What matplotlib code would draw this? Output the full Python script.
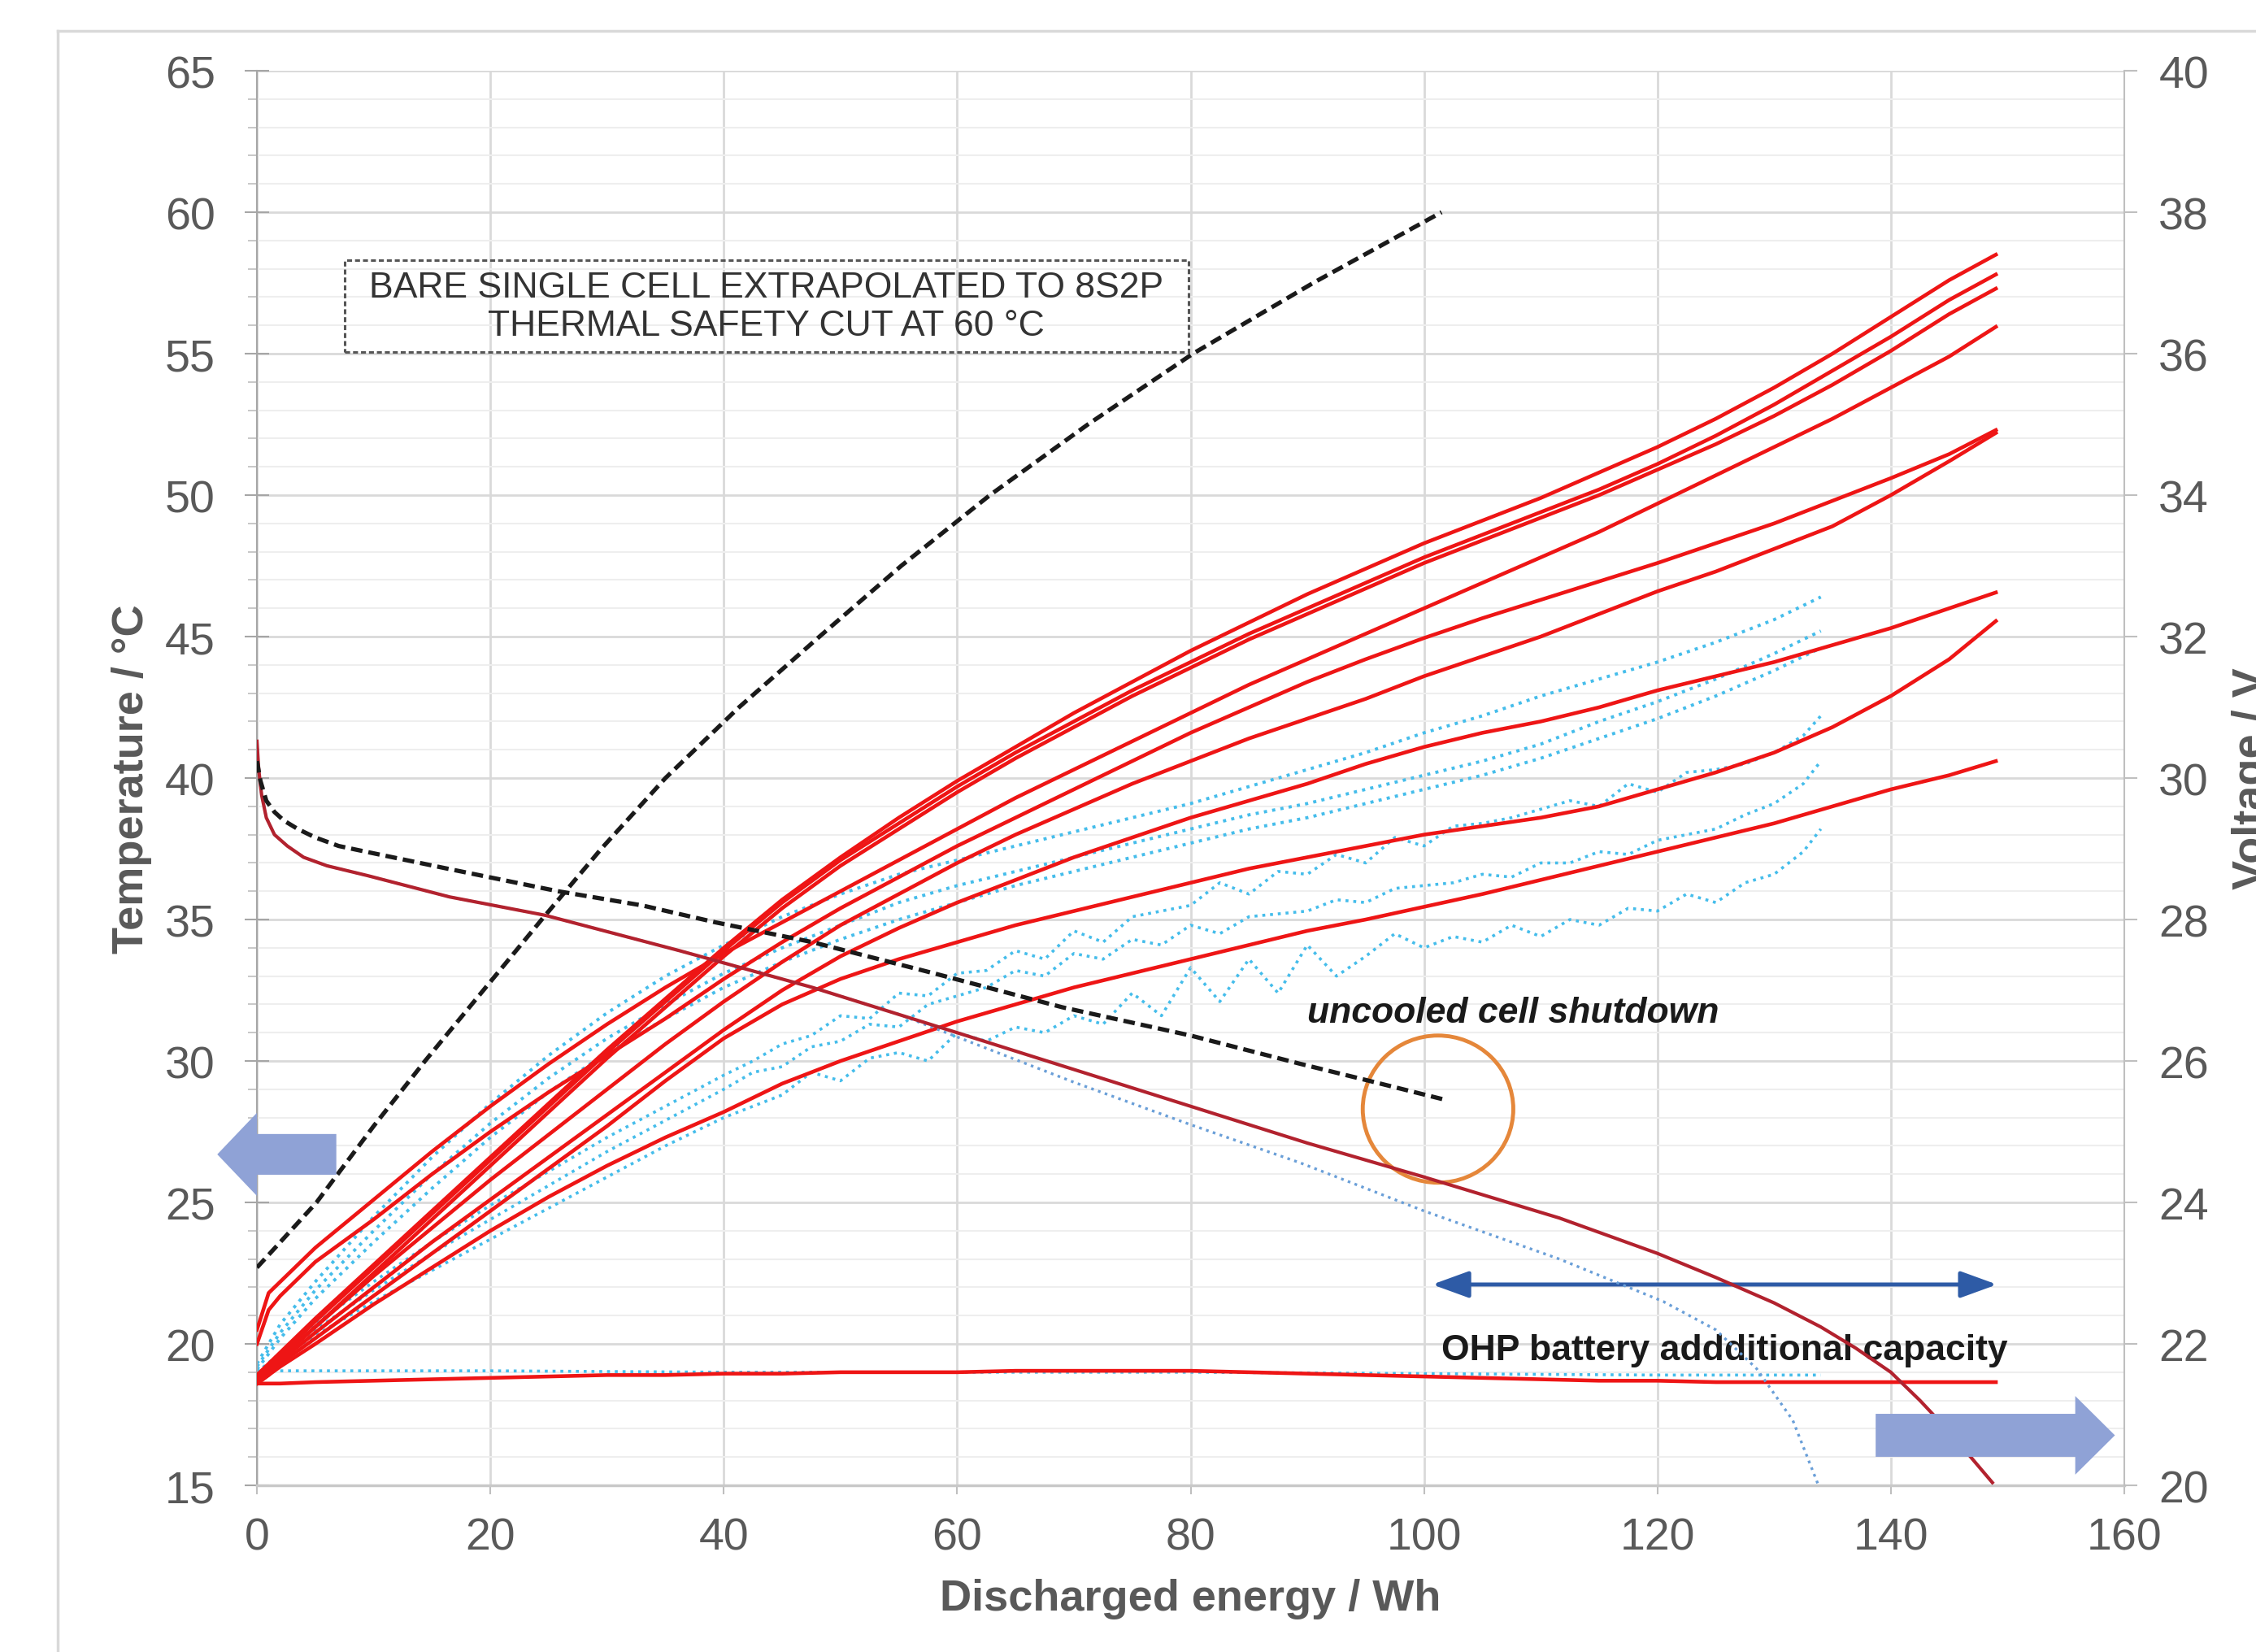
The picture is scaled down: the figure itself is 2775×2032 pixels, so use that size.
import numpy as np
import matplotlib.pyplot as plt
from matplotlib.patches import Ellipse, Rectangle, FancyArrow
from matplotlib.lines import Line2D

plt.rcParams['font.family'] = ['Liberation Sans', 'DejaVu Sans']

# ---------------- data ----------------
x_ticks = [0, 20, 40, 60, 80, 100, 120, 140, 160]
temp_ticks = [15, 20, 25, 30, 35, 40, 45, 50, 55, 60, 65]
volt_ticks = [20, 22, 24, 26, 28, 30, 32, 34, 36, 38, 40]

# OHP battery cell temperatures (red, solid)
energy_red = [0, 1, 2, 5, 10, 15, 20, 25, 30, 35, 40, 45, 50, 55, 60, 65, 70, 75,
              80, 85, 90, 95, 100, 105, 110, 115, 120, 125, 130, 135, 140, 145, 149]
red_t1 = [18.9, 19.3, 19.7, 20.9, 22.8, 24.7, 26.6, 28.5, 30.4, 32.2, 34.0, 35.7, 37.2, 38.6, 39.9, 41.1, 42.3,
          43.4, 44.5, 45.5, 46.5, 47.4, 48.3, 49.1, 49.9, 50.8, 51.7, 52.7, 53.8, 55.0, 56.3, 57.6, 58.5]
red_t2 = [18.8, 19.2, 19.6, 20.8, 22.7, 24.6, 26.5, 28.4, 30.3, 32.1, 33.9, 35.6, 37.1, 38.4, 39.7, 40.9, 42.0,
          43.1, 44.1, 45.1, 46.0, 46.9, 47.8, 48.6, 49.4, 50.2, 51.1, 52.1, 53.2, 54.4, 55.6, 56.9, 57.8]
red_t3 = [18.7, 19.1, 19.5, 20.6, 22.5, 24.4, 26.3, 28.2, 30.1, 31.9, 33.7, 35.4, 36.9, 38.2, 39.5, 40.7, 41.8,
          42.9, 43.9, 44.9, 45.8, 46.7, 47.6, 48.4, 49.2, 50.0, 50.9, 51.8, 52.8, 53.9, 55.1, 56.4, 57.3]
red_t4 = [20.5, 21.8, 22.2, 23.4, 25.1, 26.8, 28.4, 29.9, 31.3, 32.6, 33.8, 34.9, 36.0, 37.1, 38.2, 39.3, 40.3,
          41.3, 42.3, 43.3, 44.2, 45.1, 46.0, 46.9, 47.8, 48.7, 49.7, 50.7, 51.7, 52.7, 53.8, 54.9, 55.95]
red_t5 = [20.0, 21.2, 21.7, 22.9, 24.4, 26.0, 27.5, 28.9, 30.2, 31.5, 32.9, 34.2, 35.4, 36.5, 37.6, 38.6, 39.6,
          40.6, 41.6, 42.5, 43.4, 44.2, 44.95, 45.65, 46.3, 46.95, 47.6, 48.3, 49.0, 49.8, 50.6, 51.45, 52.3]
red_t6 = [18.8, 19.2, 19.5, 20.6, 22.4, 24.1, 25.8, 27.4, 29.0, 30.6, 32.1, 33.5, 34.8, 35.9, 37.0, 38.0, 38.9,
          39.8, 40.6, 41.4, 42.1, 42.8, 43.6, 44.3, 45.0, 45.8, 46.6, 47.3, 48.1, 48.9, 50.0, 51.2, 52.2]
red_t7 = [18.7, 19.0, 19.4, 20.4, 22.0, 23.6, 25.1, 26.6, 28.1, 29.6, 31.1, 32.5, 33.7, 34.7, 35.6, 36.4, 37.2,
          37.9, 38.6, 39.2, 39.8, 40.5, 41.1, 41.6, 42.0, 42.5, 43.1, 43.6, 44.1, 44.7, 45.3, 46.0, 46.56]
red_t8 = [18.6, 18.9, 19.3, 20.2, 21.7, 23.2, 24.7, 26.2, 27.7, 29.3, 30.8, 32.0, 32.9, 33.6, 34.2, 34.8, 35.3,
          35.8, 36.3, 36.8, 37.2, 37.6, 38.0, 38.3, 38.6, 39.0, 39.6, 40.2, 40.9, 41.8, 42.9, 44.2, 45.55]
red_t9 = [18.6, 18.9, 19.2, 20.0, 21.4, 22.7, 24.0, 25.2, 26.3, 27.3, 28.2, 29.2, 30.0, 30.7, 31.4, 32.0, 32.6,
          33.1, 33.6, 34.1, 34.6, 35.0, 35.45, 35.9, 36.4, 36.9, 37.4, 37.9, 38.4, 39.0, 39.6, 40.1, 40.6]
red_flat = [18.6, 18.6, 18.6, 18.65, 18.7, 18.75, 18.8, 18.85, 18.9, 18.9, 18.95, 18.95, 19.0, 19.0, 19.0, 19.05,
            19.05, 19.05, 19.05, 19.0, 18.95, 18.9, 18.85, 18.8, 18.75, 18.7, 18.7, 18.65, 18.65, 18.65, 18.65,
            18.65, 18.65]

# reference cell temperatures (light blue, dotted)
energy_cyan_smooth = [0, 2, 5, 10, 15, 20, 25, 30, 35, 40, 45, 50, 55, 60, 65, 70, 75, 80, 85, 90,
                      95, 100, 105, 110, 115, 120, 125, 130, 134]
cyan_u0 = [19.3, 20.7, 22.2, 24.5, 26.6, 28.5, 30.2, 31.7, 33.0, 34.1, 35.1, 35.9, 36.6, 37.1, 37.6, 38.1, 38.6,
           39.1, 39.7, 40.3, 40.9, 41.6, 42.2, 42.9, 43.5, 44.1, 44.8, 45.6, 46.4]
cyan_u1 = [19.2, 20.4, 21.9, 24.0, 26.0, 27.8, 29.4, 30.8, 32.0, 33.1, 34.0, 34.8, 35.6, 36.2, 36.7, 37.2, 37.7,
           38.2, 38.7, 39.1, 39.6, 40.1, 40.6, 41.2, 42.0, 42.7, 43.5, 44.4, 45.2]
cyan_u2 = [19.1, 20.2, 21.6, 23.6, 25.5, 27.3, 28.9, 30.3, 31.5, 32.6, 33.5, 34.3, 35.0, 35.6, 36.2, 36.7, 37.2,
           37.7, 38.2, 38.6, 39.1, 39.6, 40.1, 40.7, 41.4, 42.1, 42.9, 43.8, 44.6]

energy_cyan_noisy = [0, 5, 10, 15, 20, 25, 30, 35, 40, 42.5, 45, 47.5, 50, 52.5, 55, 57.5, 60, 62.5, 65, 67.5,
                     70, 72.5, 75, 77.5, 80, 82.5, 85, 87.5, 90, 92.5, 95, 97.5, 100, 102.5, 105, 107.5, 110,
                     112.5, 115, 117.5, 120, 122.5, 125, 127.5, 130, 132.5, 134]
cyan_l1 = [19.0, 20.7, 22.2, 23.6, 24.9, 26.1, 27.3, 28.4, 29.5, 30.0, 30.6, 30.9, 31.6, 31.5, 32.4, 32.3, 33.1,
           33.2, 33.9, 33.6, 34.6, 34.2, 35.1, 35.3, 35.5, 36.3, 35.9, 36.7, 36.6, 37.3, 37.0, 37.9, 37.6, 38.3,
           38.4, 38.6, 38.9, 39.2, 39.0, 39.8, 39.5, 40.2, 40.3, 40.5, 40.9, 41.5, 42.2]
cyan_l2 = [19.0, 20.5, 21.9, 23.2, 24.4, 25.6, 26.8, 27.9, 29.0, 29.6, 29.8, 30.5, 30.7, 31.3, 31.2, 32.0, 32.3,
           32.6, 33.2, 33.0, 33.8, 33.6, 34.3, 34.1, 34.8, 34.5, 35.1, 35.2, 35.3, 35.7, 35.6, 36.1, 36.2, 36.3,
           36.6, 36.5, 37.0, 37.0, 37.4, 37.3, 37.8, 38.0, 38.2, 38.7, 39.1, 39.8, 40.6]
cyan_l3 = [19.0, 20.3, 21.5, 22.6, 23.7, 24.8, 25.9, 27.0, 28.0, 28.4, 28.8, 29.6, 29.3, 30.1, 30.3, 30.0, 31.0,
           30.7, 31.2, 31.0, 31.6, 31.3, 32.4, 31.6, 33.3, 32.1, 33.6, 32.4, 34.1, 33.0, 33.7, 34.5, 34.0, 34.4,
           34.2, 34.8, 34.4, 35.0, 34.8, 35.4, 35.3, 35.9, 35.6, 36.3, 36.6, 37.4, 38.2]
energy_cyan_flat = [0, 20, 40, 60, 80, 100, 120, 134]
cyan_flat = [19.05, 19.05, 19.0, 19.0, 19.0, 18.95, 18.9, 18.9]

# bare single cell extrapolated (black dashed) - temperature
energy_bare_temp = [0, 2, 5.1, 10, 14.4, 19.4, 24.4, 29.5, 35, 41.3, 48.2, 55.2, 62.8, 71.2, 80.2, 90.5, 101.5]
bare_temp = [22.7, 23.6, 25.0, 27.7, 30.0, 32.5, 35.0, 37.5, 40.0, 42.5, 45.0, 47.5, 50.0, 52.5, 55.0, 57.5, 60.0]

# voltages (right axis)
energy_bare_volt = [0, 0.3, 0.8, 1.5, 2.3, 3.5, 5, 7, 9.3, 16.3, 25.8, 33, 39.3, 47.6, 58, 69, 80, 89.4,
                    95.3, 101.6]
bare_volt = [30.24, 29.96, 29.68, 29.52, 29.4, 29.28, 29.16, 29.04, 28.96, 28.72, 28.4, 28.2, 27.96, 27.68,
             27.24, 26.76, 26.36, 25.96, 25.72, 25.46]
energy_ohp_volt = [0, 0.15, 0.4, 0.8, 1.5, 2.6, 4, 6, 9.5, 16.5, 24.7, 36.2, 47.6, 60, 70, 80, 90, 100,
                   111.6, 120, 125, 130, 134, 137, 140, 142.5, 145, 148.7]
ohp_volt = [30.52, 30.12, 29.76, 29.44, 29.2, 29.04, 28.88, 28.76, 28.62, 28.32, 28.06, 27.56, 27.04, 26.4,
            25.88, 25.36, 24.84, 24.36, 23.78, 23.28, 22.94, 22.58, 22.24, 21.94, 21.6, 21.2, 20.76, 20.04]
energy_ref_volt = [0, 0.15, 0.4, 0.8, 1.5, 2.6, 4, 6, 9.5, 16.5, 24.7, 36.2, 47.6, 55, 60, 70, 80, 89.4,
                   100, 111.6, 120.5, 125, 128.5, 131.6, 133.8]
ref_volt = [30.52, 30.12, 29.76, 29.44, 29.2, 29.04, 28.88, 28.76, 28.62, 28.32, 28.06, 27.56, 27.04, 26.66,
            26.34, 25.7, 25.1, 24.56, 23.88, 23.2, 22.6, 22.2, 21.65, 20.92, 20.0]

# ---------------- figure ----------------
RED = '#EE1515'
CYAN = '#45BDEB'
GRID = '#D9D9D9'
LABEL = '#595959'

fig = plt.figure(figsize=(27.75, 20.33), dpi=100)
ax = fig.add_axes([0.1139, 0.1008, 0.8277, 0.8559])
ax2 = ax.twinx()

# light-blue reference temperatures
ax.plot(energy_cyan_flat, cyan_flat, color=CYAN, lw=2.6, ls=':', zorder=2)
for t in (cyan_u0, cyan_u1, cyan_u2):
    ax.plot(energy_cyan_smooth, t, color=CYAN, lw=2.8, ls=':', zorder=2)
for t in (cyan_l1, cyan_l2, cyan_l3):
    ax.plot(energy_cyan_noisy, t, color=CYAN, lw=2.6, ls=':', zorder=2)

# OHP cell temperatures
for t in (red_t9, red_t8, red_t7, red_t6, red_t5, red_t4, red_t3, red_t2, red_t1, red_flat):
    ax.plot(energy_red, t, color=RED, lw=3.3, zorder=3)

ax.plot(energy_bare_temp, bare_temp, color='#1A1A1A', lw=3.8, ls=(0, (2.7, 1.4)), zorder=4)

# voltages
ax2.plot(energy_ref_volt, ref_volt, color='#6A9FD8', lw=2.4, ls=':', zorder=2)
ax2.plot(energy_ohp_volt, ohp_volt, color='#B2222E', lw=3.0, zorder=3)
ax2.plot(energy_bare_volt, bare_volt, color='#1A1A1A', lw=3.8, ls=(0, (2.7, 1.4)), zorder=4)

# axes, ticks, grid
ax.set_xlim(0, 160)
ax.set_ylim(15, 65)
ax2.set_ylim(20, 40)
ax.set_xticks(x_ticks)
ax.set_yticks(temp_ticks)
ax.set_yticks(np.arange(15, 66, 1), minor=True)
ax2.set_yticks(volt_ticks)
ax.grid(which='major', color=GRID, lw=2)
ax.grid(which='minor', axis='y', color='#EEEEEE', lw=1.5)
ax.set_axisbelow(True)

ax.tick_params(axis='y', which='major', direction='inout', length=22, width=1.5, color='#A6A6A6',
               labelsize=40, labelcolor=LABEL, pad=26)
ax.tick_params(axis='y', which='minor', direction='out', length=8, width=1.2, color='#BFBFBF')
ax.tick_params(axis='x', which='major', direction='out', length=8, width=1.5, color='#BFBFBF',
               labelsize=40, labelcolor=LABEL, pad=20)
ax2.tick_params(axis='y', direction='out', length=11.5, width=1.5, color='#BFBFBF',
                labelsize=40, labelcolor=LABEL, pad=19)

for s in ('top', 'right'):
    ax.spines[s].set_visible(False)
for s in ('top', 'left', 'bottom'):
    ax2.spines[s].set_visible(False)
ax.spines['left'].set_color('#A6A6A6')
ax.spines['left'].set_linewidth(1.5)
ax.spines['bottom'].set_color('#C8C8C8')
ax.spines['bottom'].set_linewidth(2.5)
ax2.spines['right'].set_color('#BFBFBF')
ax2.spines['right'].set_linewidth(1.5)

ax.set_xlabel('Discharged energy / Wh', fontsize=39, fontweight='bold', color=LABEL)
ax.xaxis.set_label_coords(0.5, -0.0655)
ax.set_ylabel('Temperature / °C', fontsize=39, fontweight='bold', color=LABEL)
ax.yaxis.set_label_coords(-0.0562, 0.5)
# the original picture is cropped through this label
ax2.set_ylabel('Voltage / V', fontsize=39, fontweight='bold', color=LABEL)
ax2.yaxis.set_label_coords(1.0575, 0.5)

# annotations
ax.add_patch(Rectangle((7.5, 55.06), 72.3, 3.24, fill=False, ec='#555555', lw=2.2,
                       ls=(0, (2, 1.2)), zorder=5))
ax.text(43.65, 56.67, 'BARE SINGLE CELL EXTRAPOLATED TO 8S2P\nTHERMAL SAFETY CUT AT 60 °C',
        ha='center', va='center', multialignment='center', fontsize=32, color='#333333', zorder=5)
ax.text(90, 31.7, 'uncooled cell shutdown', fontsize=32, fontweight='bold', fontstyle='italic',
        color='#1A1A1A', ha='left', va='center', zorder=5)
ax.add_patch(Ellipse((101.2, 28.3), 12.9, 5.2, fill=False, ec='#E5873A', lw=3.5, zorder=5))
ax.annotate('', xy=(149.1, 22.1), xytext=(100.7, 22.1),
            arrowprops=dict(arrowstyle='<|-|>,head_length=0.55,head_width=0.2', color='#2E5BA6',
                            lw=3.6, mutation_scale=50, shrinkA=0, shrinkB=0), zorder=5)
ax.text(101.5, 19.8, 'OHP battery addditional capacity', fontsize=32, fontweight='bold',
        color='#1A1A1A', ha='left', va='center', zorder=5)

ARROW = '#8FA2D6'
ax2.add_artist(FancyArrow(6.8, 26.7, -10.2, 0, width=1.44, head_width=2.94, head_length=3.4,
                          length_includes_head=True, fc=ARROW, ec='none', transform=ax.transData,
                          clip_on=False, zorder=10))
ax2.add_artist(FancyArrow(138.7, 16.77, 20.5, 0, width=1.52, head_width=2.78, head_length=3.4,
                          length_includes_head=True, fc=ARROW, ec='none', transform=ax.transData,
                          clip_on=False, zorder=10))

# chart-area frame
fig.add_artist(Line2D([0.0256, 1], [0.981, 0.981], color=GRID, lw=2.5, transform=fig.transFigure))
fig.add_artist(Line2D([0.0256, 0.0256], [0, 0.981], color=GRID, lw=2.5, transform=fig.transFigure))

fig.savefig('out.png', dpi=100, facecolor='white')
